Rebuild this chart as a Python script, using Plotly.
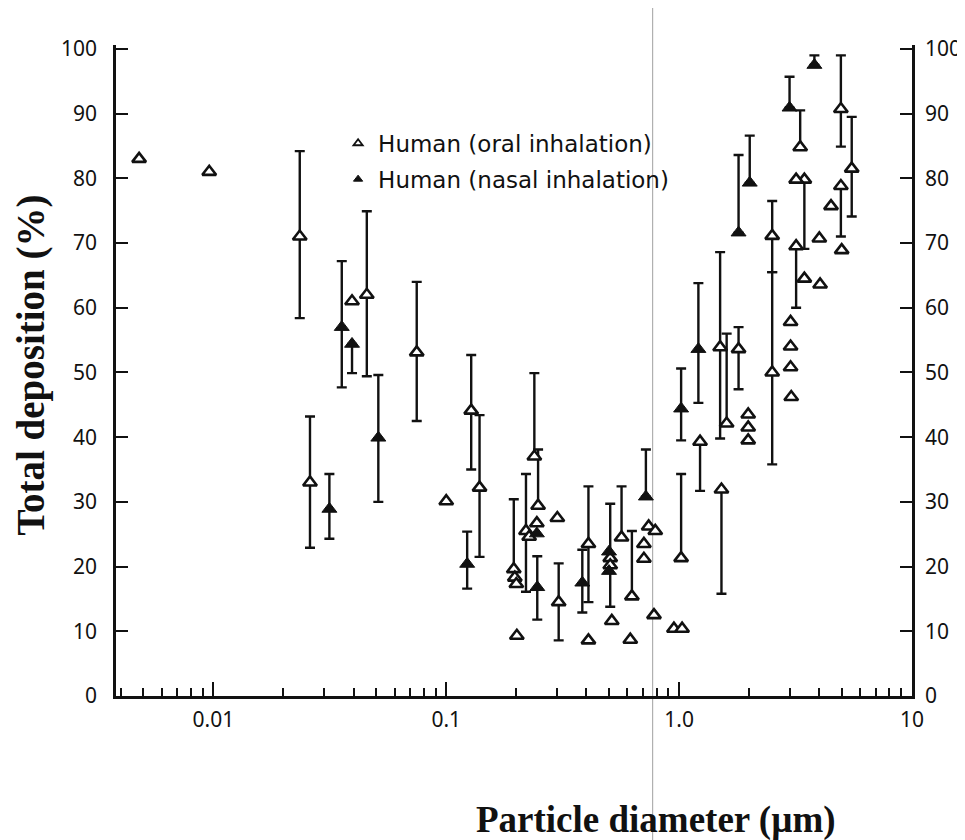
import plotly.graph_objects as go

# ---------------- data ----------------
# Human, oral inhalation — points with error bars
oral_bar_x   = [0.0235, 0.026, 0.0456, 0.0747, 0.128, 0.139, 0.22, 0.239, 0.248, 0.195,
                0.304, 0.408, 0.506, 0.566, 0.627, 1.02, 1.23, 1.50, 1.60, 1.52,
                1.80, 2.51, 2.51, 3.18, 3.31, 3.45, 4.95, 5.51, 4.95]
oral_bar_y   = [71.0, 33.0, 62.0, 53.1, 44.1, 32.2, 25.5, 37.0, 29.4, 19.6,
                14.5, 23.5, 21.3, 24.5, 15.4, 21.3, 39.3, 53.9, 42.1, 31.9,
                53.6, 71.1, 50.0, 69.5, 84.8, 79.8, 90.7, 81.5, 78.8]
oral_bar_hi  = [84.2, 43.2, 74.9, 64.0, 52.7, 43.4, 34.3, 49.9, 38.1, 30.4,
                20.5, 32.4, 29.7, 32.4, 25.5, 34.3, 39.3, 68.6, 56.0, 31.9,
                57.0, 76.5, 65.5, 69.5, 90.5, 79.8, 99.0, 89.5, 78.8]
oral_bar_lo  = [58.4, 22.9, 49.4, 42.5, 35.0, 21.5, 16.1, 37.0, 29.4, 19.6,
                8.6, 14.5, 13.8, 24.5, 15.4, 21.3, 31.7, 39.8, 42.1, 15.8,
                47.4, 65.5, 35.8, 60.0, 84.8, 69.1, 84.9, 74.1, 71.0]

# Human, oral inhalation — single points
oral_x = [0.0048, 0.0096, 0.0394, 0.100, 0.197, 0.200, 0.201, 0.227, 0.245, 0.300,
          0.408, 0.514, 0.506, 0.617, 0.706, 0.706, 0.740, 0.790, 0.780, 0.950,
          1.03, 1.98, 1.98, 1.98, 3.03, 3.01, 3.01, 3.01, 3.18, 3.45,
          4.03, 4.00, 4.49, 4.99]
oral_y = [83.0, 81.0, 61.0, 30.1, 18.3, 17.3, 9.3, 24.6, 26.7, 27.5,
          8.6, 11.6, 20.2, 8.7, 23.5, 21.2, 26.2, 25.5, 12.5, 10.4,
          10.4, 43.5, 41.5, 39.5, 46.2, 57.8, 54.0, 50.8, 79.8, 64.5,
          63.6, 70.7, 75.7, 68.9]

# Human, nasal inhalation — points with error bars
nasal_bar_x  = [0.0315, 0.0356, 0.0394, 0.0511, 0.123, 0.246, 0.384, 0.72, 1.02, 1.21,
                1.80, 2.01, 2.98, 3.81]
nasal_bar_y  = [28.9, 57.0, 54.4, 39.9, 20.4, 16.8, 17.5, 30.8, 44.4, 53.6,
                71.6, 79.3, 90.9, 97.5]
nasal_bar_hi = [34.3, 67.2, 54.4, 49.6, 25.4, 21.6, 22.6, 38.1, 50.6, 63.8,
                83.6, 86.6, 95.7, 99.0]
nasal_bar_lo = [24.3, 47.7, 49.9, 30.0, 16.6, 11.8, 12.9, 30.8, 39.5, 45.3,
                71.6, 79.3, 90.9, 97.5]

# Human, nasal inhalation — single points
nasal_x = [0.245, 0.50, 0.50]
nasal_y = [25.1, 22.3, 19.3]

x_tick_vals = [0.01, 0.1, 1, 10]
x_tick_text = ["0.01", "0.1", "1.0", "10"]
x_minor_vals = [0.004, 0.005, 0.006, 0.007, 0.008, 0.009,
                0.02, 0.03, 0.04, 0.05, 0.06, 0.07, 0.08, 0.09,
                0.2, 0.3, 0.4, 0.5, 0.6, 0.7, 0.8, 0.9,
                2, 3, 4, 5, 6, 7, 8, 9]
y_tick_vals = [0, 10, 20, 30, 40, 50, 60, 70, 80, 90, 100]

legend_names = ["Human (oral inhalation)", "Human (nasal inhalation)"]
x_title = "Particle diameter (µm)"
y_title = "Total deposition (%)"

# ---------------- figure ----------------
INK = "#111111"
def err(y, hi, lo):
    return dict(type="data", symmetric=False,
                array=[h - v for h, v in zip(hi, y)],
                arrayminus=[v - l for l, v in zip(lo, y)],
                color=INK, thickness=2.4, width=5)

open_marker = dict(symbol="triangle-up", size=12, color="white",
                   line=dict(color=INK, width=2.6))
fill_marker = dict(symbol="triangle-up", size=13, color=INK,
                   line=dict(color=INK, width=1))

fig = go.Figure()
fig.add_trace(go.Scatter(x=oral_bar_x, y=oral_bar_y, mode="markers", showlegend=False,
                         error_y=err(oral_bar_y, oral_bar_hi, oral_bar_lo),
                         marker=open_marker))
fig.add_trace(go.Scatter(x=oral_x, y=oral_y, mode="markers", showlegend=False,
                         marker=open_marker))
fig.add_trace(go.Scatter(x=nasal_bar_x, y=nasal_bar_y, mode="markers", showlegend=False,
                         error_y=err(nasal_bar_y, nasal_bar_hi, nasal_bar_lo),
                         marker=fill_marker))
fig.add_trace(go.Scatter(x=nasal_x, y=nasal_y, mode="markers", showlegend=False,
                         marker=fill_marker))

# legend-only entries
fig.add_trace(go.Scatter(x=[None], y=[None], mode="markers", name=legend_names[0],
                         legendgroup="a",
                         marker=dict(symbol="triangle-up", size=8, color="white",
                                     line=dict(color=INK, width=1.8))))
fig.add_trace(go.Scatter(x=[None], y=[None], mode="markers", name=legend_names[1],
                         legendgroup="b",
                         marker=dict(symbol="triangle-up", size=8, color=INK,
                                     line=dict(color=INK, width=1))))

# dummy trace for right axis
fig.add_trace(go.Scatter(x=[None], y=[None], yaxis="y2", showlegend=False))

tick_font = dict(family="Noto Sans, DejaVu Sans, sans-serif", size=21, color=INK)
title_font = dict(family="Liberation Serif, Times New Roman, serif", size=37, color=INK)
ytitle_font = dict(family="Liberation Serif, Times New Roman, serif", size=39, color=INK)

fig.update_layout(
    width=965, height=840,
    margin=dict(l=108, r=53, t=37, b=152),
    paper_bgcolor="white", plot_bgcolor="white",
    showlegend=True,
    legend=dict(x=0.279, y=0.882, xanchor="left", yanchor="top",
                bgcolor="rgba(0,0,0,0)", borderwidth=0,
                font=dict(family="DejaVu Sans, sans-serif", size=23, color=INK),
                itemwidth=30, tracegroupgap=3),
    xaxis=dict(type="log", range=[-2.418, 1.0],
               tickmode="array", tickvals=x_tick_vals, ticktext=x_tick_text,
               ticks="inside", ticklen=14, tickwidth=2, tickcolor=INK,
               minor=dict(tickmode="array", tickvals=x_minor_vals, ticks="inside",
                          ticklen=8, tickwidth=2, tickcolor=INK, showgrid=False),
               showline=True, linecolor=INK, linewidth=2.6,
               showgrid=False, zeroline=False, tickfont=tick_font,
               ticklabelstandoff=3),
    yaxis=dict(range=[0, 100.6], tickmode="array", tickvals=y_tick_vals,
               ticks="inside", ticklen=12, tickwidth=2.2, tickcolor=INK,
               showline=True, linecolor=INK, linewidth=2.6,
               showgrid=False, zeroline=False, tickfont=tick_font,
               ticklabelstandoff=12),
    yaxis2=dict(range=[0, 100.6], overlaying="y", side="right",
                tickmode="array", tickvals=y_tick_vals,
                ticks="inside", ticklen=12, tickwidth=2.2, tickcolor=INK,
                showline=True, linecolor=INK, linewidth=2.6,
                showgrid=False, zeroline=False, tickfont=tick_font,
                ticklabelstandoff=6),
    annotations=[
        dict(text="<b>" + x_title + "</b>", xref="paper", yref="paper",
             x=0.679, y=-0.19, xanchor="center", yanchor="middle",
             showarrow=False, font=title_font),
        dict(text="<b>" + y_title + "</b>", xref="paper", yref="paper",
             x=-0.107, y=0.509, xanchor="center", yanchor="middle",
             textangle=-90, showarrow=False, font=ytitle_font),
    ],
    shapes=[dict(type="line", xref="x", yref="paper", x0=0.77, x1=0.77,
                 y0=-0.3, y1=1.06, line=dict(color="#a0a0a0", width=1),
                 layer="below")],
)

fig.write_html("out.html")
